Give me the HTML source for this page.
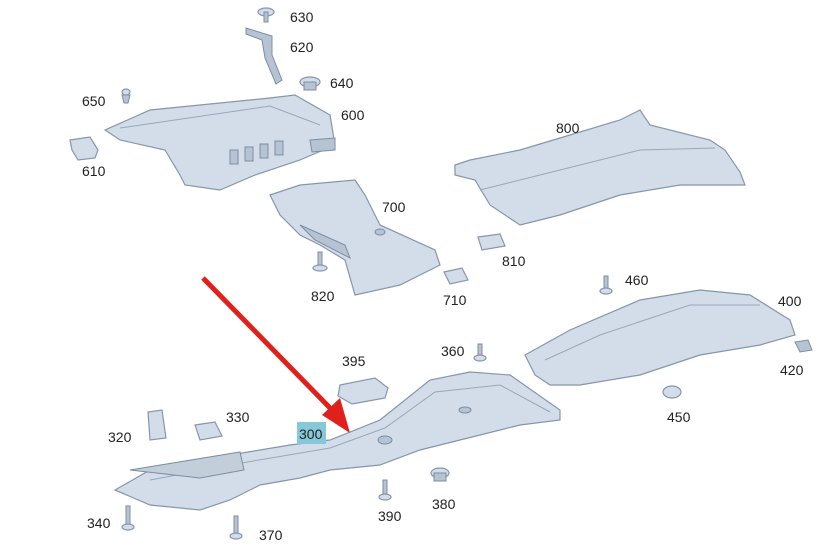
<!DOCTYPE html>
<html><head><meta charset="utf-8"><style>
html,body{margin:0;padding:0;background:#fff;}
svg{display:block;}
text{font-family:"Liberation Sans",sans-serif;font-size:14px;fill:#222;}
.p{fill:#d3dde9;stroke:#8696aa;stroke-width:1.2;}
.d{fill:#b6c3d3;stroke:#7d8da2;stroke-width:1;}
.l{fill:none;stroke:#98a7ba;stroke-width:1;}
</style></head><body>
<svg width="822" height="547" viewBox="0 0 822 547" xmlns="http://www.w3.org/2000/svg">
<polygon class="p" points="105,130 150,110 270,98 295,95 330,115 335,145 300,160 255,175 220,190 185,185 180,175 165,150 120,140"/>
<polyline class="l" points="120,128 270,106 320,125"/>
<g class="d"><rect x="230" y="150" width="8" height="14"/><rect x="245" y="147" width="8" height="14"/><rect x="260" y="144" width="8" height="14"/><rect x="275" y="141" width="8" height="14"/></g>
<polygon class="d" points="310,140 335,138 335,150 312,152"/>
<polygon class="d" points="246,28 272,36 272,55 282,80 276,84 265,58 262,40 246,34"/>
<ellipse class="p" cx="266" cy="12" rx="8" ry="4"/><rect class="d" x="264" y="12" width="4" height="10"/>
<ellipse class="p" cx="310" cy="82" rx="10" ry="5"/><rect class="d" x="304" y="82" width="12" height="8"/>
<polygon class="d" points="122,95 130,95 128,103 124,103"/><ellipse class="p" cx="126" cy="92" rx="4" ry="3"/>
<polygon class="p" points="70,140 90,137 98,150 95,158 78,160 72,150"/>
<polygon class="p" points="270,195 300,185 355,180 365,195 380,225 435,250 440,265 400,285 355,295 345,260 320,245 300,235 280,215"/>
<polygon class="d" points="300,225 345,245 350,258 315,240"/>
<ellipse class="d" cx="380" cy="232" rx="5" ry="3"/>
<rect class="d" x="318" y="252" width="4" height="18"/><ellipse class="p" cx="320" cy="268" rx="7" ry="3"/>
<polygon class="p" points="444,272 462,268 468,280 450,284"/>
<polygon class="p" points="478,237 500,234 505,246 482,250"/>
<polygon class="p" points="455,165 470,160 520,150 570,135 620,120 640,110 650,125 710,140 725,150 740,172 745,185 720,185 680,185 620,195 560,215 520,225 490,205 475,180 455,175"/>
<polyline class="l" points="480,190 560,170 640,150 715,148"/>
<polygon class="p" points="525,355 570,330 640,300 700,290 750,295 790,320 795,335 760,345 700,355 640,375 580,385 550,385 535,375"/>
<polyline class="l" points="545,360 600,335 690,305 760,305"/>
<polygon class="d" points="795,342 808,340 812,350 800,352"/>
<rect class="d" x="604" y="276" width="4" height="18"/><ellipse class="p" cx="606" cy="291" rx="6" ry="3"/>
<ellipse class="p" cx="672" cy="392" rx="9" ry="6"/>
<rect class="d" x="478" y="344" width="4" height="14"/><ellipse class="p" cx="480" cy="358" rx="6" ry="3"/>
<polygon class="p" points="115,490 150,470 230,455 290,445 330,440 380,420 430,380 470,372 510,375 560,410 560,420 520,425 480,435 420,450 380,465 330,470 300,478 260,485 230,500 200,510 150,505"/>
<polyline class="l" points="150,480 230,465 330,448 385,428 435,392 500,385 550,412"/>
<ellipse class="d" cx="385" cy="440" rx="7" ry="4"/><ellipse class="d" cx="465" cy="410" rx="6" ry="3"/>
<polygon class="d" points="130,470 240,452 244,470 200,478" style="fill:#c3cedb"/>
<polygon class="p" points="340,385 375,378 388,388 385,398 352,404 338,396"/>
<polygon class="p" points="148,412 162,410 166,438 150,440"/>
<polygon class="p" points="195,425 215,422 222,436 200,440"/>
<rect class="d" x="126" y="506" width="4" height="20"/><ellipse class="p" cx="128" cy="527" rx="6" ry="3"/>
<rect class="d" x="234" y="516" width="4" height="20"/><ellipse class="p" cx="236" cy="536" rx="6" ry="3"/>
<rect class="d" x="383" y="480" width="4" height="16"/><ellipse class="p" cx="385" cy="497" rx="6" ry="3"/>
<ellipse class="p" cx="440" cy="473" rx="9" ry="5"/><rect class="d" x="434" y="473" width="12" height="8"/>
<line x1="203" y1="278" x2="332" y2="410" stroke="#e0201a" stroke-width="5"/>
<polygon points="350,433 322,415 340,398" fill="#e0201a"/>
<rect x="297" y="422" width="29" height="22" fill="#86c8d8"/>
<text x="290" y="22">630</text><text x="290" y="52">620</text><text x="330" y="88">640</text>
<text x="82" y="106">650</text><text x="341" y="120">600</text><text x="82" y="176">610</text>
<text x="556" y="133">800</text><text x="382" y="212">700</text><text x="502" y="266">810</text>
<text x="311" y="301">820</text><text x="443" y="305">710</text>
<text x="625" y="285">460</text><text x="778" y="306">400</text><text x="780" y="375">420</text>
<text x="342" y="366">395</text><text x="441" y="356">360</text><text x="667" y="422">450</text>
<text x="226" y="422">330</text><text x="108" y="442">320</text><text x="299" y="439">300</text>
<text x="432" y="509">380</text><text x="378" y="521">390</text>
<text x="87" y="528">340</text><text x="259" y="540">370</text>
</svg>
</body></html>
